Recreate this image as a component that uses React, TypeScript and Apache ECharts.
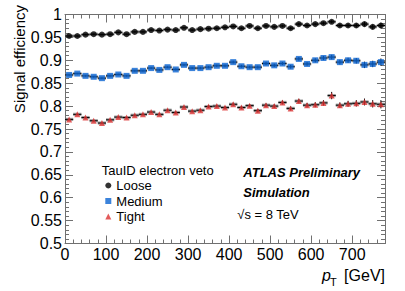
import React, { useEffect, useRef } from 'react';
import * as echarts from 'echarts';

// ---- data ----
const ptBinCenters = [10, 30, 50, 70, 90, 110, 130, 150, 170, 190, 210, 230, 250, 270, 290, 310, 330, 350, 370, 390, 410, 430, 450, 470, 490, 510, 530, 550, 570, 590, 610, 630, 650, 670, 690, 710, 730, 750, 770];
const binHalfWidth = 10;

const looseEff = [0.953, 0.953, 0.956, 0.957, 0.956, 0.957, 0.961, 0.957, 0.962, 0.962, 0.966, 0.965, 0.967, 0.966, 0.971, 0.966, 0.968, 0.969, 0.970, 0.972, 0.974, 0.970, 0.975, 0.970, 0.975, 0.973, 0.975, 0.970, 0.979, 0.976, 0.979, 0.981, 0.984, 0.976, 0.976, 0.976, 0.979, 0.973, 0.976];
const mediumEff = [0.868, 0.871, 0.866, 0.864, 0.861, 0.866, 0.869, 0.866, 0.877, 0.877, 0.883, 0.879, 0.885, 0.880, 0.890, 0.883, 0.883, 0.885, 0.888, 0.888, 0.896, 0.887, 0.885, 0.885, 0.893, 0.889, 0.893, 0.886, 0.903, 0.892, 0.900, 0.905, 0.907, 0.896, 0.900, 0.899, 0.890, 0.892, 0.896];
const tightEff = [0.771, 0.782, 0.775, 0.768, 0.763, 0.770, 0.776, 0.775, 0.780, 0.782, 0.787, 0.782, 0.791, 0.786, 0.798, 0.789, 0.791, 0.799, 0.800, 0.797, 0.804, 0.797, 0.801, 0.790, 0.802, 0.800, 0.808, 0.795, 0.811, 0.802, 0.803, 0.807, 0.823, 0.802, 0.805, 0.806, 0.809, 0.805, 0.804];

const looseErr = [0.001, 0.001, 0.001, 0.001, 0.001, 0.001, 0.001, 0.001, 0.001, 0.001, 0.0015, 0.0015, 0.0015, 0.0015, 0.0015, 0.0015, 0.0015, 0.002, 0.002, 0.002, 0.002, 0.002, 0.002, 0.0025, 0.0025, 0.0025, 0.0025, 0.003, 0.003, 0.003, 0.003, 0.0035, 0.0035, 0.004, 0.004, 0.0045, 0.005, 0.005, 0.006];
const mediumErr = [0.0015, 0.0015, 0.0015, 0.0015, 0.0015, 0.0015, 0.0015, 0.0015, 0.0015, 0.0015, 0.002, 0.002, 0.002, 0.002, 0.002, 0.002, 0.0025, 0.0025, 0.0025, 0.0025, 0.003, 0.003, 0.003, 0.003, 0.0035, 0.0035, 0.0035, 0.004, 0.004, 0.004, 0.0045, 0.0045, 0.005, 0.005, 0.0055, 0.006, 0.007, 0.007, 0.008];
const tightErr = [0.0015, 0.0015, 0.0015, 0.0015, 0.0015, 0.0015, 0.0015, 0.0015, 0.002, 0.002, 0.002, 0.002, 0.0025, 0.0025, 0.0025, 0.0025, 0.003, 0.003, 0.003, 0.003, 0.0035, 0.0035, 0.0035, 0.004, 0.004, 0.004, 0.0045, 0.0045, 0.005, 0.005, 0.0055, 0.006, 0.008, 0.006, 0.0065, 0.007, 0.0075, 0.008, 0.009];

const seriesNames = ['Loose', 'Medium', 'Tight'];
const seriesColors = ['#000000', '#0a64d2', '#dc3232'];
const seriesSymbols = ['circle', 'rect', 'triangle'];
const seriesSizes = [6, 6, 6];

const FONT = '"Liberation Sans", Arimo, Helvetica, Arial, sans-serif';
const FRAME = '#707070';

export default function App() {
  const ref = useRef<HTMLDivElement>(null);

  useEffect(() => {
    const chart = echarts.init(ref.current as HTMLDivElement, null, { renderer: 'svg' });

    const effs = [looseEff, mediumEff, tightEff];
    const errs = [looseErr, mediumErr, tightErr];

    const renderErr = (params: any, api: any) => {
      const x = api.value(0);
      const y = api.value(1);
      const e = api.value(2);
      const l = api.coord([x - binHalfWidth, y]);
      const r = api.coord([x + binHalfWidth, y]);
      const t = api.coord([x, y + e]);
      const b = api.coord([x, y - e]);
      return {
        type: 'group',
        children: [
          {
            type: 'rect',
            shape: { x: l[0], y: l[1] - 1.6, width: r[0] - l[0], height: 3.2 },
            style: { fill: 'rgba(130,130,130,0.75)' },
          },
          {
            type: 'line',
            shape: { x1: l[0], y1: l[1], x2: r[0], y2: r[1] },
            style: { stroke: '#000', lineWidth: 1 },
          },
          {
            type: 'line',
            shape: { x1: t[0], y1: t[1], x2: b[0], y2: b[1] },
            style: { stroke: '#000', lineWidth: 1 },
          },
        ],
      };
    };

    const series: any[] = [];
    seriesNames.forEach((name, si) => {
      series.push({
        type: 'custom',
        name: name + ' errors',
        renderItem: renderErr,
        data: ptBinCenters.map((x, i) => [x, effs[si][i], errs[si][i]]),
        encode: { x: 0, y: 1 },
        z: 2,
        silent: true,
      });
    });
    seriesNames.forEach((name, si) => {
      series.push({
        type: 'scatter',
        name,
        symbol: seriesSymbols[si],
        symbolSize: seriesSizes[si],
        itemStyle: { color: seriesColors[si] },
        data: ptBinCenters.map((x, i) => [x, effs[si][i]]),
        z: 3,
      });
    });

    const majorX = (pos: 'top' | 'bottom', labels: boolean) => ({
      type: 'value',
      position: pos,
      min: 0,
      max: 780,
      interval: 100,
      axisLine: { show: true, onZero: false, lineStyle: { color: FRAME, width: 1 } },
      axisTick: { show: true, inside: true, length: 8, lineStyle: { color: FRAME } },
      axisLabel: {
        show: labels,
        color: '#000',
        fontFamily: FONT,
        fontSize: 16,
        margin: 3,
        showMaxLabel: false,
      },
      splitLine: { show: false },
    });
    const minorX = (pos: 'top' | 'bottom') => ({
      type: 'value',
      position: pos,
      min: 0,
      max: 780,
      interval: 20,
      axisLine: { show: false },
      axisTick: { show: true, inside: true, length: 4, lineStyle: { color: FRAME } },
      axisLabel: { show: false },
      splitLine: { show: false },
    });
    const yAx = (pos: 'left' | 'right', labels: boolean) => ({
      type: 'value',
      position: pos,
      min: 0.5,
      max: 1,
      interval: 0.05,
      axisLine: { show: true, onZero: false, lineStyle: { color: FRAME, width: 1 } },
      axisTick: { show: true, inside: true, length: 8, lineStyle: { color: FRAME } },
      minorTick: { show: true, splitNumber: 5, length: 4, lineStyle: { color: FRAME } },
      axisLabel: {
        show: labels,
        color: '#000',
        fontFamily: FONT,
        fontSize: 16,
        margin: 3,
      },
      splitLine: { show: false },
      minorSplitLine: { show: false },
    });

    const option: any = {
      animation: false,
      backgroundColor: '#fff',
      grid: { left: 65, top: 14.5, width: 320, height: 229, containLabel: false },
      xAxis: [majorX('bottom', true), minorX('bottom'), majorX('top', false), minorX('top')],
      yAxis: [yAx('left', true), yAx('right', false)],
      legend: {
        orient: 'vertical',
        left: 105.3,
        top: 179,
        padding: 0,
        itemGap: 2.5,
        itemWidth: 6,
        itemHeight: 6,
        selectedMode: false,
        data: seriesNames.map((n, i) => ({ name: n, icon: seriesSymbols[i] })),
        textStyle: { fontFamily: FONT, fontSize: 13, color: '#000', padding: [0, 0, 0, 0] },
      },
      series,
      graphic: [
        {
          type: 'text',
          x: 19,
          y: 5,
          rotation: Math.PI / 2,
          style: { text: 'Signal efficiency', font: `15px ${FONT}`, fill: '#000', align: 'right', verticalAlign: 'middle' },
        },
        {
          type: 'text',
          x: 385,
          y: 275,
          style: { text: '[GeV]', font: `16px ${FONT}`, fill: '#000', align: 'right', verticalAlign: 'middle' },
        },
        {
          type: 'text',
          x: 322,
          y: 275,
          style: { text: 'p', font: `italic 16px ${FONT}`, fill: '#000', align: 'left', verticalAlign: 'middle' },
        },
        {
          type: 'text',
          x: 330,
          y: 282,
          style: { text: 'T', font: `11px ${FONT}`, fill: '#000', align: 'left', verticalAlign: 'middle' },
        },
        {
          type: 'text',
          x: 101.7,
          y: 170.7,
          style: { text: 'TauID electron veto', font: `13px ${FONT}`, fill: '#000', align: 'left', verticalAlign: 'middle' },
        },
        {
          type: 'text',
          x: 243.3,
          y: 172.7,
          style: { text: 'ATLAS Preliminary', font: `italic bold 13px ${FONT}`, fill: '#000', align: 'left', verticalAlign: 'middle' },
        },
        {
          type: 'text',
          x: 243.3,
          y: 192.7,
          style: { text: 'Simulation', font: `italic bold 13px ${FONT}`, fill: '#000', align: 'left', verticalAlign: 'middle' },
        },
        {
          type: 'text',
          x: 237.3,
          y: 214,
          style: { text: '√s = 8 TeV', font: `13px ${FONT}`, fill: '#000', align: 'left', verticalAlign: 'middle' },
        },
      ],
    };

    chart.setOption(option);
    return () => chart.dispose();
  }, []);

  return (
    <div
      ref={ref}
      style={{ position: 'fixed', left: 0, top: 0, width: 405, height: 291, background: '#fff' }}
    />
  );
}
